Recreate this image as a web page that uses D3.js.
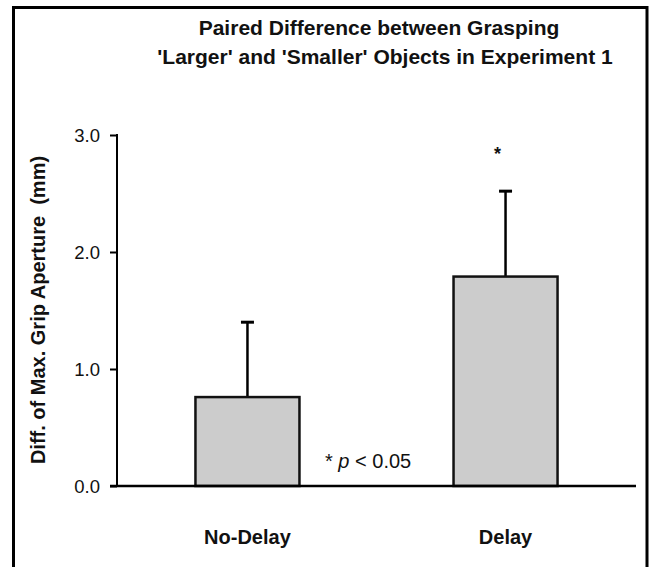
<!DOCTYPE html>
<html>
<head>
<meta charset="utf-8">
<script src="https://cdn.jsdelivr.net/npm/d3@7"></script>
<style>
  html, body { margin: 0; padding: 0; background: #fff; }
  svg { display: block; font-family: Arial, "Liberation Sans", sans-serif; }
</style>
</head>
<body>
<svg id="chart" width="649" height="567"></svg>
<script>
// Chart data
const categories = ["No-Delay", "Delay"];
const means = [0.76, 1.79];
const errors = [0.64, 0.73];
const significant = [false, true];
const yTicks = [0, 1, 2, 3];

const titleLines = [
    "Paired Difference between Grasping",
    "'Larger' and 'Smaller' Objects in Experiment 1"
];
const titleCenters = [379, 385];

const svg = d3.select("#chart");
const width = +svg.attr("width");
const height = +svg.attr("height");

// Frame around the figure (open at the bottom)
svg.append("path")
    .attr("d", `M13.5,${height} L13.5,7.5 L647,7.5 L647,${height}`)
    .attr("fill", "none")
    .attr("stroke", "#000")
    .attr("stroke-width", 3);

// Title
svg.append("g").selectAll("text")
    .data(titleLines)
    .enter().append("text")
    .attr("x", (d, i) => titleCenters[i])
    .attr("y", (d, i) => 34.5 + i * 29)
    .attr("text-anchor", "middle")
    .style("font-size", "21px")
    .style("font-weight", "bold")
    .attr("fill", "#111")
    .text(d => d);

const margin = { left: 117, right: 636, top: 135, bottom: 486 };

const x = d3.scaleBand()
    .domain(categories)
    .range([margin.left, margin.right])
    .paddingInner(0.597)
    .paddingOuter(0.304);

const y = d3.scaleLinear()
    .domain([0, 3])
    .range([margin.bottom, margin.top]);

// Y axis
const yAxis = d3.axisLeft(y)
    .tickValues(yTicks)
    .tickSize(7)
    .tickPadding(10)
    .tickFormat(d3.format(".1f"));

const yg = svg.append("g")
    .attr("transform", `translate(${margin.left},0)`)
    .call(yAxis);
yg.select(".domain").remove();
yg.append("line")
    .attr("x1", 0).attr("x2", 0)
    .attr("y1", y(3) - 1).attr("y2", y(0))
    .attr("stroke", "#000")
    .attr("stroke-width", 2);
yg.selectAll(".tick line").attr("stroke", "#000").attr("stroke-width", 2);
yg.selectAll(".tick text")
    .attr("fill", "#111")
    .style("font-size", "18.5px")
    .attr("dy", "0.35em");

// Y axis label
svg.append("text")
    .attr("transform", `translate(45,310) rotate(-90)`)
    .attr("text-anchor", "middle")
    .style("font-size", "20px")
    .style("font-weight", "bold")
    .style("white-space", "pre")
    .attr("fill", "#111")
    .text("Diff. of Max. Grip Aperture  (mm)");

// Error bars (drawn first so the bar covers the stem base)
const cx = d => x(d) + x.bandwidth() / 2;

svg.append("g").selectAll("line.err")
    .data(categories)
    .enter().append("line")
    .attr("class", "err")
    .attr("x1", d => cx(d)).attr("x2", d => cx(d))
    .attr("y1", (d, i) => y(means[i]))
    .attr("y2", (d, i) => y(means[i] + errors[i]))
    .attr("stroke", "#000")
    .attr("stroke-width", 2.5);

svg.append("g").selectAll("line.cap")
    .data(categories)
    .enter().append("line")
    .attr("class", "cap")
    .attr("x1", d => cx(d) - 6.5).attr("x2", d => cx(d) + 6.5)
    .attr("y1", (d, i) => y(means[i] + errors[i]))
    .attr("y2", (d, i) => y(means[i] + errors[i]))
    .attr("stroke", "#000")
    .attr("stroke-width", 3);

// Bars
svg.append("g").selectAll("rect")
    .data(categories)
    .enter().append("rect")
    .attr("x", d => x(d))
    .attr("y", (d, i) => y(means[i]))
    .attr("width", x.bandwidth())
    .attr("height", (d, i) => y(0) - y(means[i]))
    .attr("fill", "#cccccc")
    .attr("stroke", "#111")
    .attr("stroke-width", 2.5);

// X axis baseline
svg.append("line")
    .attr("x1", margin.left - 7).attr("x2", margin.right)
    .attr("y1", y(0)).attr("y2", y(0))
    .attr("stroke", "#000")
    .attr("stroke-width", 2.5);

// Category labels
svg.append("g").selectAll("text")
    .data(categories)
    .enter().append("text")
    .attr("x", d => cx(d))
    .attr("y", 544)
    .attr("text-anchor", "middle")
    .style("font-size", "20px")
    .style("font-weight", "bold")
    .attr("fill", "#111")
    .text(d => d);

// Significance markers
svg.append("g").selectAll("text")
    .data(categories.filter((d, i) => significant[i]))
    .enter().append("text")
    .attr("x", d => cx(d) - 8)
    .attr("y", 160)
    .attr("text-anchor", "middle")
    .style("font-size", "18px")
    .style("font-weight", "bold")
    .attr("fill", "#111")
    .text("*");

// Legend note
const note = svg.append("text")
    .attr("x", 325)
    .attr("y", 468)
    .style("font-size", "20px")
    .attr("fill", "#111");
note.append("tspan").text("* ");
note.append("tspan").style("font-style", "italic").text("p");
note.append("tspan").text(" < 0.05");
</script>
</body>
</html>
